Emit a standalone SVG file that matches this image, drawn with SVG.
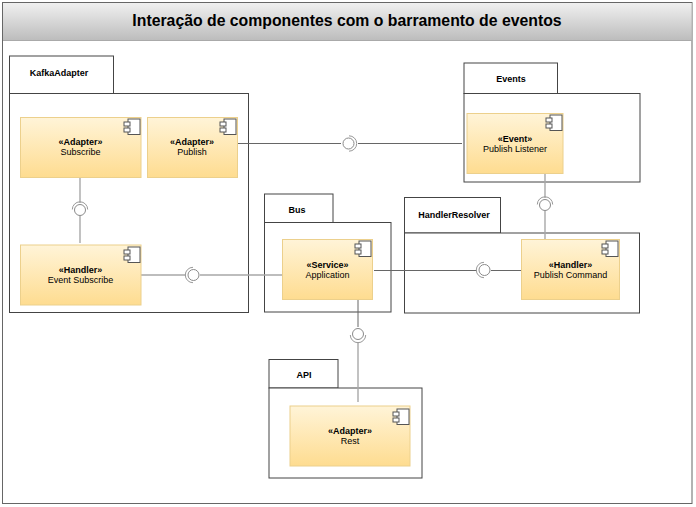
<svg xmlns="http://www.w3.org/2000/svg" width="696" height="507" viewBox="0 0 696 507">
<style>
text{font-family:"Liberation Sans",Arial,sans-serif;text-anchor:middle;fill:#000}
.title{font-size:15.800px;font-weight:bold}
.pk{font-size:9px;font-weight:bold}
.st{font-size:9px;font-weight:bold}
.nm{font-size:9px}
.box{fill:#fff;stroke:#444;stroke-width:1}
.cp{fill:url(#g);stroke:#ecd08c;stroke-width:1}
.ic{fill:#fff;stroke:#555;stroke-width:1}
.w{fill:none;stroke:#a8a8a8;stroke-width:1.4}
.t{fill:none;stroke:#666;stroke-width:1}
.o{fill:#fff;stroke:#8a8a8a;stroke-width:1}
.s{fill:none;stroke:#999;stroke-width:1}
</style>
<defs>
<linearGradient id="g" x1="0" y1="0" x2="0" y2="1"><stop offset="0" stop-color="#fff4d8"/><stop offset="1" stop-color="#fedc90"/></linearGradient>
<linearGradient id="h" x1="0" y1="0" x2="0" y2="1"><stop offset="0" stop-color="#f0f0f0"/><stop offset="1" stop-color="#bcbcbc"/></linearGradient>
<g id="icon"><rect class="ic" x="-8" y="0" width="12" height="15.500"/><rect class="ic" x="-12" y="3" width="6" height="4"/><rect class="ic" x="-12" y="9" width="6" height="4"/></g>
</defs>
<rect x="0" y="0" width="696" height="507" fill="#fff"/>
<g id="frame">
<rect x="2.500" y="2.500" width="689.500" height="501" fill="#fff" stroke="#666"/>
<rect x="3" y="3" width="688.500" height="37.500" fill="url(#h)"/>
<line x1="3" y1="40.500" x2="692" y2="40.500" stroke="#aaa"/>
<text class="title" x="347" y="26">Interação de componentes com o barramento de eventos</text>
</g>
<g id="KafkaAdapter">
<rect class="box" x="9.500" y="56" width="104" height="37.500"/>
<rect class="box" x="9.500" y="93.500" width="239" height="219"/>
<text class="pk" x="59" y="76">KafkaAdapter</text>
</g>
<g id="Events">
<rect class="box" x="464" y="63" width="93.500" height="30.500"/>
<rect class="box" x="464" y="93.500" width="176" height="88.500"/>
<text class="pk" x="511" y="82">Events</text>
</g>
<g id="Bus">
<rect class="box" x="264.500" y="194" width="68.500" height="28.500"/>
<rect class="box" x="264.500" y="222.500" width="126.500" height="89.500"/>
<text class="pk" x="297" y="213">Bus</text>
</g>
<g id="HandlerResolver">
<rect class="box" x="404.500" y="197.500" width="96" height="35.500"/>
<rect class="box" x="404.500" y="233" width="235" height="80"/>
<text class="pk" x="454" y="218">HandlerResolver</text>
</g>
<g id="API">
<rect class="box" x="269" y="359.500" width="69" height="28.500"/>
<rect class="box" x="269" y="388" width="153" height="90"/>
<text class="pk" x="304" y="378">API</text>
</g>
<g id="connectors">
<path class="t" d="M237 143.500H341M358 143.500H462"/>
<path class="w" d="M80 177V203M80 216V243"/>
<path class="w" d="M141 275H186M200 275H282"/>
<path class="t" d="M374 270.500H477M491 270.500H521"/>
<path class="w" d="M545 173V198M545 211V239"/>
<path class="t" d="M358 299V327"/>
<path class="w" d="M358 342V402"/>
<g id="sockets">
<circle class="o" cx="80" cy="210" r="5.500"/><path class="s" d="M72.300 209.500A7.700 7.700 0 0 1 87.700 209.500"/>
<circle class="o" cx="193.500" cy="275" r="5.500"/><path class="s" d="M193 267.300A7.700 7.700 0 0 0 193 282.700"/>
<circle class="o" cx="348.500" cy="143.500" r="5.500"/><path class="s" d="M349 135.800A7.700 7.700 0 0 1 349 151.200"/>
<circle class="o" cx="484.500" cy="270" r="5.500"/><path class="s" d="M484 262.300A7.700 7.700 0 0 0 484 277.700"/>
<circle class="o" cx="545" cy="205" r="5.500"/><path class="s" d="M537.300 204.500A7.700 7.700 0 0 1 552.700 204.500"/>
<circle class="o" cx="358" cy="334" r="5.500"/><path class="s" d="M350.300 335A7.700 7.700 0 0 0 365.700 335"/>
</g>
</g>
<g id="Subscribe"><rect class="cp" x="20.500" y="117.500" width="120.500" height="60"/><use href="#icon" x="136" y="119"/><text class="st" x="80.500" y="145">«Adapter»</text><text class="nm" x="80.500" y="155">Subscribe</text></g>
<g id="Publish"><rect class="cp" x="147.500" y="117.500" width="90" height="60"/><use href="#icon" x="232" y="119"/><text class="st" x="192" y="145">«Adapter»</text><text class="nm" x="192" y="155">Publish</text></g>
<g id="EventSubscribe"><rect class="cp" x="20.500" y="245" width="120.500" height="60"/><use href="#icon" x="136" y="247"/><text class="st" x="80.500" y="273">«Handler»</text><text class="nm" x="80.500" y="283">Event Subscribe</text></g>
<g id="PublishListener"><rect class="cp" x="467" y="113.500" width="96" height="60"/><use href="#icon" x="558" y="115"/><text class="st" x="515" y="142">«Event»</text><text class="nm" x="515" y="152">Publish Listener</text></g>
<g id="Application"><rect class="cp" x="282.500" y="239.500" width="90" height="60"/><use href="#icon" x="367" y="241"/><text class="st" x="327.500" y="268">«Service»</text><text class="nm" x="327.500" y="278">Application</text></g>
<g id="PublishCommand"><rect class="cp" x="521.500" y="239.500" width="98" height="60"/><use href="#icon" x="614" y="241"/><text class="st" x="570.500" y="268">«Handler»</text><text class="nm" x="570.500" y="278">Publish Command</text></g>
<g id="Rest"><rect class="cp" x="290" y="406" width="120" height="60"/><use href="#icon" x="405" y="409"/><text class="st" x="350" y="434">«Adapter»</text><text class="nm" x="350" y="444">Rest</text></g>
</svg>
